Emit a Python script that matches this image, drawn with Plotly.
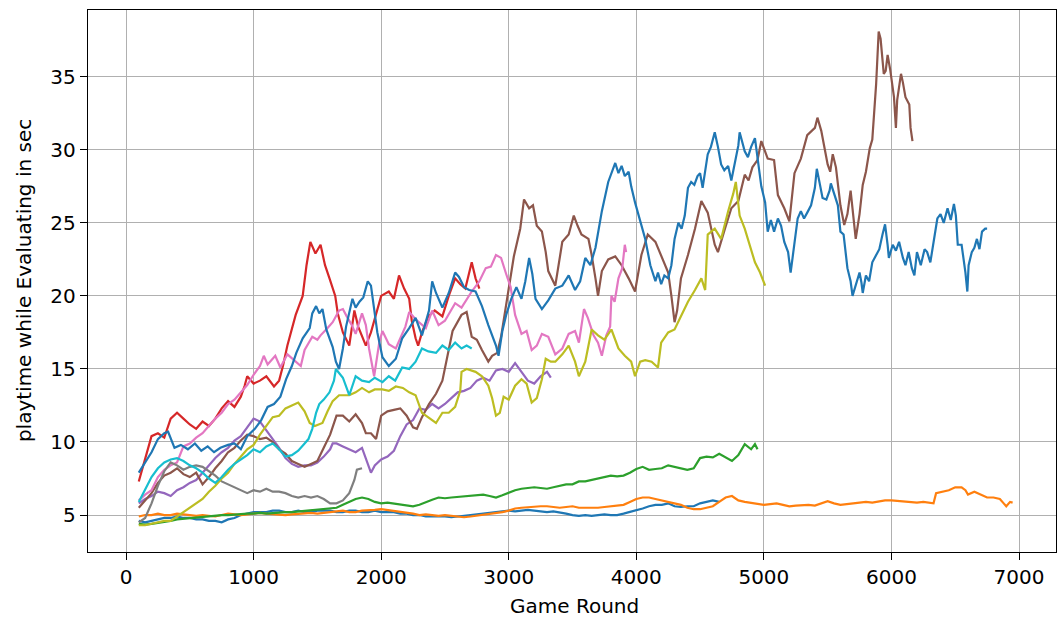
import plotly.graph_objects as go

# ---------------------------------------------------------------
# Evaluation playtime (seconds) per game round for eleven runs
# ---------------------------------------------------------------

# run 1 (blue, fast)
run01_rounds = list(range(100, 4651, 50))
run01_time = [4.6, 4.5, 4.6, 4.7, 4.8, 4.8, 4.9, 4.8, 4.8, 4.7, 4.7, 4.6, 4.6, 4.5, 4.7, 4.8, 5.0, 5.1,
              5.2, 5.2, 5.2, 5.3, 5.3, 5.2, 5.2, 5.3, 5.2, 5.2, 5.3, 5.3, 5.3, 5.2, 5.2, 5.3, 5.3, 5.2,
              5.2, 5.3, 5.2, 5.2, 5.2, 5.1, 5.1, 5.0, 5.0, 4.9, 4.9, 4.95, 4.9, 4.85, 4.9, 4.95, 5.0,
              5.05, 5.1, 5.2, 5.2, 5.3, 5.3, 5.25, 5.3, 5.35, 5.3, 5.25, 5.2, 5.25, 5.2, 5.1, 5.0, 4.95,
              5.0, 4.95, 5.0, 5.05, 5.0, 5.0, 5.1, 5.2, 5.3, 5.45, 5.6, 5.7, 5.7, 5.8, 5.6, 5.55, 5.6,
              5.6, 5.8, 5.9, 6.0, 5.9]

# run 2 (orange)
run02_rounds = list(range(100, 6301, 50)) + [6330, 6350, 6400, 6450, 6500, 6550, 6580, 6600, 6650,
                                              6700, 6750, 6800, 6850, 6880, 6900, 6930, 6950]
run02_time = [4.9, 5.0, 5.0, 5.1, 5.0, 5.0, 5.1, 5.05, 5.0, 4.95, 5.0, 4.95, 4.9, 5.0, 5.1, 5.05, 5.0,
              5.05, 5.1, 5.15, 5.1, 5.05, 5.0, 5.0, 5.05, 5.1, 5.1, 5.15, 5.1, 5.15, 5.2, 5.25, 5.3, 5.2,
              5.2, 5.3, 5.3, 5.35, 5.4, 5.35, 5.3, 5.25, 5.2, 5.1, 5.0, 5.05, 5.0, 4.95, 5.0, 4.95, 4.9,
              4.85, 4.9, 4.95, 5.0, 5.05, 5.1, 5.2, 5.3, 5.45, 5.5, 5.55, 5.6, 5.6, 5.6, 5.55, 5.5,
              5.55, 5.6, 5.5, 5.5, 5.45, 5.5, 5.55, 5.6, 5.6, 5.7, 5.9, 6.1, 6.2, 6.2, 6.1, 6.0, 5.9,
              5.8, 5.7, 5.5, 5.4, 5.4, 5.5, 5.6, 5.9, 6.2, 6.3, 6.0, 5.9, 5.85, 5.75, 5.7, 5.75, 5.8,
              5.7, 5.6, 5.65, 5.7, 5.7, 5.65, 5.8, 5.95, 5.8, 5.7, 5.75, 5.8, 5.8, 5.9, 5.85, 5.95,
              6.0, 6.0, 5.95, 5.9, 5.9, 5.85, 5.9, 5.85,
              5.8, 6.5, 6.6, 6.7, 6.9, 6.9, 6.7, 6.4, 6.6, 6.4, 6.2, 6.2, 6.1, 5.8, 5.6, 5.9, 5.85]

# run 3 (green)
run03_rounds = list(range(100, 4901, 50)) + [4930, 4950]
run03_time = [4.4, 4.35, 4.4, 4.45, 4.5, 4.6, 4.7, 4.75, 4.8, 4.85, 4.9, 4.95, 5.0, 5.0, 5.0, 5.05,
              5.1, 5.1, 5.1, 5.15, 5.1, 5.15, 5.2, 5.2, 5.2, 5.25, 5.3, 5.3, 5.4, 5.4, 5.45, 5.5, 5.7,
              5.9, 6.1, 6.2, 6.1, 5.9, 5.8, 5.85, 5.8, 5.75, 5.7, 5.6, 5.7, 5.9, 6.05, 6.2, 6.15, 6.2,
              6.25, 6.3, 6.3, 6.4, 6.4, 6.3, 6.2, 6.35, 6.55, 6.7, 6.8, 6.85, 6.9, 6.85, 6.8, 6.9, 7.0,
              7.1, 7.1, 7.3, 7.3, 7.4, 7.55, 7.65, 7.7, 7.65, 7.7, 7.9, 8.15, 8.3, 8.1, 8.15, 8.2, 8.4,
              8.3, 8.15, 8.1, 8.2, 8.9, 9.0, 8.95, 9.2, 8.95, 8.7, 9.1, 9.85, 9.5, 9.85, 9.5]

# run 4 (red)
run04_rounds = [100, 150, 200, 250, 300, 350, 400, 450, 500, 550, 600, 650, 700, 750, 800, 850, 900,
                930, 950, 1000, 1050, 1100, 1160, 1200, 1230, 1265, 1300, 1330, 1385, 1415, 1445,
                1485, 1525, 1560, 1595, 1640, 1660, 1700, 1750, 1770, 1790, 1820, 1880, 1920, 1950,
                2000, 2060, 2100, 2140, 2180, 2220, 2240, 2270, 2290, 2320, 2370, 2420, 2480, 2530,
                2580, 2620, 2660, 2710, 2740, 2770]
run04_time = [7.3, 8.8, 10.4, 10.6, 10.3, 11.6, 12.0, 11.6, 11.2, 10.9, 11.4, 11.1, 11.6, 12.3, 12.8,
              12.4, 13.1, 13.85, 14.5, 14.0, 14.2, 14.5, 13.8, 14.2, 15.2, 16.6, 17.8, 18.7, 20.0,
              22.1, 23.7, 22.9, 23.5, 22.1, 21.2, 20.0, 18.8, 17.5, 16.6, 17.8, 19.0, 17.9, 16.6,
              17.5, 18.5, 20.0, 20.3, 19.8, 21.4, 20.5, 19.8, 18.3, 17.1, 16.6, 17.5, 18.6, 19.0,
              18.6, 20.0, 21.2, 20.8, 20.5, 22.3, 21.2, 20.5]

# run 5 (purple)
run05_rounds = list(range(100, 1601, 50)) + [1620, 1650, 1700, 1750, 1800, 1850, 1900, 1920, 1950] \
    + list(range(2000, 3301, 50)) + [3330]
run05_time = [5.8, 6.1, 6.3, 6.6, 6.5, 6.3, 6.7, 6.9, 7.2, 7.4, 7.9, 8.4, 8.9, 9.3, 9.6, 10.1, 10.4,
              11.0, 11.6, 11.4, 10.8, 10.2, 9.6, 8.9, 8.5, 8.3, 8.4, 8.4, 8.6, 9.0, 9.5,
              9.9, 9.9, 9.7, 9.5, 9.3, 9.6, 8.3, 7.9, 8.4,
              8.8, 9.0, 9.4, 10.4, 11.2, 11.5, 12.3, 12.2, 12.6, 12.3, 12.6, 13.0, 13.4, 13.5, 13.7,
              14.2, 14.4, 14.2, 14.9, 15.0, 14.8, 15.4, 14.8, 14.2, 14.0, 14.5, 14.8, 14.4]

# run 6 (brown)
run06_rounds = list(range(100, 1851, 50)) + [
    1880, 1920, 1960, 2000, 2050, 2100, 2150, 2200, 2250, 2280, 2320, 2375, 2430, 2480, 2530, 2560,
    2630, 2670, 2710, 2750, 2790, 2840, 2870, 2910, 2940, 2975, 3015, 3040, 3090, 3120, 3160, 3190,
    3220, 3260, 3290, 3310, 3365, 3390, 3420, 3470, 3510, 3540, 3570, 3625, 3650, 3680, 3700, 3730,
    3780, 3835, 3885, 3940, 3990, 4040, 4090, 4150, 4195, 4250, 4275, 4300, 4320, 4350, 4405, 4460,
    4510, 4560, 4615, 4640, 4695, 4745, 4800, 4820, 4850, 4880, 4910, 4950, 4980, 5030, 5080, 5110,
    5160, 5200, 5240, 5290, 5340, 5400, 5420, 5450, 5470, 5500, 5520, 5540, 5565, 5600, 5630, 5655,
    5680, 5700, 5720, 5750, 5775, 5800, 5830, 5850, 5880, 5900, 5915, 5940, 5955, 5970, 5990, 6020,
    6035, 6045, 6075, 6090, 6110, 6140, 6150, 6165]
run06_time = [5.5, 6.0, 6.5, 7.2, 7.7, 7.9, 8.2, 7.8, 7.6, 7.9, 7.1, 7.6, 8.2, 8.7, 9.3, 9.6, 10.1,
              10.5, 10.4, 10.2, 10.3, 10.0, 9.5, 9.2, 8.7, 8.5, 8.3, 8.5, 8.7, 9.6, 10.5, 11.8, 11.8,
              11.4, 11.9, 11.3,
              10.6, 10.6, 10.2, 11.8, 12.1, 12.2, 12.3, 11.8, 11.0, 10.9, 11.7, 12.6, 13.3, 14.2, 16.4,
              17.6, 18.7, 18.9, 17.2, 17.0, 16.3, 15.5, 15.9, 16.1, 17.2, 19.2, 21.4, 22.7, 24.6, 26.6,
              26.0, 26.2, 24.8, 24.4, 23.0, 21.7, 20.7, 22.1, 23.7, 24.2, 25.5, 24.8, 24.2, 23.9, 22.8,
              21.2, 20.0, 21.7, 22.5, 22.7, 22.1, 21.2, 20.3, 22.8, 24.2, 23.7, 22.8, 21.6, 20.0, 18.2,
              19.0, 21.2, 22.8, 24.6, 26.5, 25.7, 23.5, 23.0, 24.6, 26.0, 26.5, 27.3, 28.3, 27.9, 28.8,
              29.3, 30.6, 29.4, 29.3, 26.9, 26.0, 25.1, 28.4, 29.4, 31.0, 31.5, 32.2, 31.3, 30.3, 29.0,
              28.5, 29.7, 28.8, 26.2, 24.85, 25.6, 27.2, 25.4, 23.9, 25.6, 27.6, 28.5, 30.1, 30.7,
              34.5, 38.1, 37.6, 35.2, 35.4, 36.5, 35.5, 33.6, 31.5, 33.4, 35.2, 34.6, 33.6, 33.1, 31.5,
              30.6]

# run 7 (pink)
run07_rounds = list(range(100, 1051, 50)) + [
    1080, 1110, 1170, 1210, 1265, 1320, 1370, 1400, 1460, 1500, 1525, 1580, 1620, 1670, 1700, 1730,
    1770, 1800, 1850, 1880, 1905, 1945, 1960, 1985, 2010, 2060, 2115, 2190, 2220, 2270, 2350, 2400,
    2450, 2500, 2580, 2630, 2710, 2770, 2820, 2860, 2900, 2940, 2980, 3015, 3050, 3100, 3140, 3180,
    3220, 3260, 3310, 3365, 3420, 3470, 3520, 3550, 3590, 3620, 3665, 3700, 3730, 3765, 3795, 3805,
    3830, 3860, 3890, 3910, 3920]
run07_time = [6.0, 6.4, 6.7, 7.6, 8.1, 8.4, 8.6, 9.7, 9.9, 10.3, 10.6, 11.1, 11.6, 12.0, 12.6, 12.9,
              13.4, 13.9, 14.6, 15.2,
              15.9, 15.3, 15.9, 15.1, 16.0, 15.6, 15.2, 16.3, 17.2, 17.0, 17.3, 17.8, 18.2, 19.0,
              19.1, 18.6, 18.0, 17.4, 18.8, 18.0, 16.4, 14.5, 15.5, 16.8, 17.6, 16.7, 16.4, 17.9,
              18.9, 18.4, 17.8, 19.0, 18.0, 18.3, 19.5, 19.2, 20.3, 21.0, 21.9, 22.0, 22.8, 22.6,
              21.5, 20.6, 18.7, 17.4, 17.6, 16.3, 16.6, 17.4, 17.2, 16.0, 16.4, 17.4, 17.6, 16.8,
              19.1, 18.5, 17.3, 16.8, 15.9, 17.3, 17.9, 20.0, 19.6, 21.2, 21.9, 23.5, 23.0]

# run 8 (gray)
run08_rounds = list(range(100, 1751, 50)) + [1790, 1810, 1850]
run08_time = [4.5, 4.8, 5.8, 7.0, 8.0, 8.6, 8.4, 8.1, 8.3, 8.4, 8.3, 8.0, 7.7, 7.3, 7.1, 6.9, 6.7,
              6.5, 6.7, 6.6, 6.8, 6.6, 6.6, 6.5, 6.3, 6.2, 6.3, 6.2, 6.3, 6.1, 5.8, 5.8, 6.0, 6.5,
              7.4, 8.1, 8.2]

# run 9 (olive)
run09_rounds = list(range(100, 1401, 50)) + [
    1440, 1480, 1540, 1580, 1620, 1670, 1750, 1800, 1850, 1905, 1950, 2010, 2060, 2115, 2170, 2220,
    2270, 2320, 2380, 2430, 2480, 2530, 2580, 2620, 2630, 2670, 2740, 2790, 2840, 2870, 2900, 2930,
    2960, 3000, 3050, 3100, 3140, 3180, 3220, 3260, 3290, 3330, 3365, 3420, 3470, 3500, 3520, 3550,
    3600, 3650, 3700, 3750, 3805, 3860, 3910, 3960, 3990, 4030, 4070, 4120, 4170, 4195, 4250, 4300,
    4350, 4405, 4460, 4510, 4540, 4560, 4615, 4665, 4720, 4760, 4780, 4810, 4850, 4890, 4930, 4970,
    5010]
run09_time = [4.3, 4.3, 4.4, 4.5, 4.6, 4.6, 4.9, 5.2, 5.5, 5.8, 6.1, 6.6, 7.0, 7.5, 7.9, 8.5, 9.0,
              9.5, 9.8, 10.5, 11.1, 11.7, 11.8, 12.3, 12.5, 12.7, 12.1,
              11.3, 11.1, 11.3, 12.1, 12.8, 13.2, 13.2, 13.4, 13.7, 13.4, 13.6, 13.6, 13.5, 13.8,
              13.7, 13.4, 13.2, 12.0, 11.6, 11.3, 12.0, 12.0, 12.4, 13.5, 14.8, 15.0, 14.8, 14.5,
              13.85, 13.0, 11.8, 12.0, 13.1, 12.9, 13.85, 14.3, 14.0, 12.7, 13.0, 14.3, 15.7, 15.5,
              15.5, 16.0, 16.6, 16.0, 15.5, 14.5, 15.5, 17.7, 17.3, 17.0, 17.7, 16.4, 15.9, 15.5,
              14.5, 15.5, 15.6, 15.5, 15.1, 16.8, 17.5, 17.7, 18.6, 19.6, 20.4, 21.2, 20.4, 24.2,
              24.6, 23.9, 25.8, 27.0, 27.8, 25.5, 24.6, 23.5, 22.3, 21.6, 20.7]

# run 10 (cyan)
run10_rounds = list(range(100, 1401, 50)) + [
    1430, 1460, 1490, 1515, 1550, 1595, 1630, 1645, 1700, 1750, 1800, 1850, 1905, 1950, 2010, 2060,
    2110, 2165, 2220, 2270, 2320, 2370, 2430, 2480, 2530, 2580, 2630, 2670, 2710]
run10_time = [5.9, 6.8, 7.6, 8.2, 8.6, 8.8, 8.9, 8.7, 8.4, 8.2, 7.9, 7.5, 7.2, 7.6, 8.1, 8.5, 8.8,
              9.1, 9.5, 9.3, 9.7, 9.9, 9.5, 9.0, 9.1, 9.4, 9.9,
              10.2, 10.9, 12.0, 12.6, 12.9, 13.4, 14.2, 15.0, 14.4, 13.2, 14.5, 14.2, 14.1, 14.4,
              14.1, 14.5, 14.2, 15.1, 15.0, 15.5, 16.4, 16.2, 16.1, 16.6, 16.3, 16.8, 16.4, 16.6,
              16.4]

# run 11 (blue, long)
run11_rounds = [
    100, 150, 200, 250, 300, 330, 380, 430, 485, 540, 590, 640, 690, 740, 800, 850, 900, 950, 1010,
    1060, 1110, 1160, 1210, 1255, 1300, 1335, 1385, 1440, 1460, 1490, 1515, 1540, 1570, 1620, 1645,
    1670, 1700, 1725, 1750, 1775, 1800, 1830, 1860, 1895, 1920, 1945, 1970, 2010, 2060, 2115, 2165,
    2220, 2270, 2320, 2375, 2400, 2430, 2480, 2530, 2580, 2610, 2650, 2690, 2740, 2790, 2840, 2900,
    2920, 2950, 2980, 3020, 3060, 3100, 3130, 3160, 3185, 3210, 3260, 3310, 3365, 3420, 3470, 3520,
    3560, 3600, 3640, 3680, 3730, 3780, 3835, 3860, 3885, 3910, 3940, 3960, 3990, 4020, 4040, 4070,
    4110, 4150, 4170, 4195, 4220, 4250, 4275, 4300, 4330, 4355, 4380, 4405, 4430, 4455, 4480, 4500,
    4520, 4560, 4585, 4615, 4640, 4665, 4690, 4720, 4745, 4770, 4800, 4810, 4830, 4850, 4875, 4900,
    4930, 4950, 4980, 5010, 5020, 5030, 5055, 5080, 5110, 5135, 5160, 5190, 5210, 5240, 5265, 5290,
    5315, 5340, 5370, 5400, 5415, 5440, 5460, 5490, 5515, 5525, 5550, 5580, 5600, 5625, 5655, 5680,
    5695, 5720, 5750, 5765, 5775, 5800, 5825, 5850, 5880, 5905, 5930, 5950, 5970, 5980, 6010, 6035,
    6060, 6090, 6110, 6135, 6160, 6180, 6200, 6230, 6260, 6280, 6305, 6340, 6360, 6385, 6410, 6440,
    6465, 6490, 6505, 6520, 6550, 6580, 6595, 6605, 6630, 6650, 6670, 6690, 6710, 6735, 6750]
run11_time = [
    7.9, 8.6, 9.3, 10.2, 10.6, 10.7, 9.6, 9.8, 9.5, 9.9, 9.4, 9.7, 9.3, 9.6, 9.8, 9.9, 9.5, 10.4,
    10.9, 11.5, 12.4, 12.6, 13.1, 14.3, 15.2, 16.1, 17.1, 17.8, 18.8, 19.3, 18.8, 19.1, 17.7, 16.5,
    15.5, 15.0, 16.4, 17.9, 18.9, 19.8, 19.2, 19.6, 19.9, 21.0, 20.7, 19.1, 17.5, 15.8, 15.2, 15.7,
    17.1, 17.8, 18.5, 17.3, 19.0, 21.0, 20.2, 19.2, 20.2, 21.6, 21.3, 20.6, 20.4, 20.3, 19.3, 18.0,
    16.6, 15.9, 17.6, 18.7, 19.8, 20.6, 19.8, 21.0, 22.6, 21.5, 19.8, 19.1, 19.7, 20.5, 20.7, 21.4,
    20.4, 21.0, 22.6, 22.1, 23.3, 25.8, 27.8, 29.1, 28.4, 28.9, 28.2, 28.5, 27.5, 26.4, 25.5, 24.9,
    23.9, 22.1, 21.0, 21.6, 20.8, 21.4, 21.2, 22.1, 23.9, 25.0, 24.6, 25.5, 27.4, 27.8, 27.6, 28.2,
    28.4, 27.4, 29.7, 30.2, 31.2, 30.2, 29.0, 28.6, 28.9, 27.9, 29.0, 30.3, 31.2, 30.6, 29.9, 29.5,
    30.2, 30.8, 29.4, 27.5, 26.4, 25.0, 24.4, 25.2, 24.4, 25.3, 24.8, 23.7, 23.0, 21.6, 23.5, 25.3,
    25.8, 25.3, 25.7, 26.2, 27.4, 28.7, 27.6, 26.7, 26.6, 27.2, 27.7, 27.0, 26.2, 24.4, 24.2, 21.9,
    21.0, 20.0, 20.7, 21.6, 20.9, 20.2, 21.4, 21.0, 22.3, 22.8, 23.2, 24.2, 24.9, 23.5, 22.6, 23.5,
    23.1, 23.7, 22.6, 22.1, 23.0, 21.9, 21.4, 23.0, 22.1, 23.2, 23.0, 22.3, 24.4, 25.3, 25.6, 25.0,
    26.0, 25.2, 26.3, 25.5, 23.5, 23.5, 21.6, 20.3, 22.1, 23.0, 23.3, 23.9, 23.2, 24.4, 24.6, 24.6]

x_ticks = [0, 1000, 2000, 3000, 4000, 5000, 6000, 7000]
y_ticks = [5, 10, 15, 20, 25, 30, 35]

runs = [
    (run01_rounds, run01_time, "#1f77b4"),
    (run02_rounds, run02_time, "#ff7f0e"),
    (run03_rounds, run03_time, "#2ca02c"),
    (run04_rounds, run04_time, "#d62728"),
    (run05_rounds, run05_time, "#9467bd"),
    (run06_rounds, run06_time, "#8c564b"),
    (run07_rounds, run07_time, "#e377c2"),
    (run08_rounds, run08_time, "#7f7f7f"),
    (run09_rounds, run09_time, "#bcbd22"),
    (run10_rounds, run10_time, "#17becf"),
    (run11_rounds, run11_time, "#1f77b4"),
]

fig = go.Figure()
for i, (xs, ys, color) in enumerate(runs):
    assert len(xs) == len(ys), (i + 1, len(xs), len(ys))
    fig.add_trace(go.Scatter(x=xs, y=ys, mode="lines",
                             line=dict(color=color, width=2.2),
                             showlegend=False, hoverinfo="x+y"))

axis_style = dict(
    showgrid=True, gridcolor="#b0b0b0", gridwidth=1.4,
    showline=True, linecolor="black", linewidth=1.4, mirror=True,
    ticks="outside", ticklen=7, tickwidth=1.4, tickcolor="black",
    zeroline=False,
    tickfont=dict(family="DejaVu Sans", size=20, color="black"),
)

fig.update_xaxes(range=[-298, 7290], tickvals=x_ticks, **axis_style)
fig.update_yaxes(range=[2.47, 39.57], tickvals=y_ticks, **axis_style)

fig.update_layout(
    width=1058, height=620,
    margin=dict(l=88, r=2, t=10, b=68),
    plot_bgcolor="white", paper_bgcolor="white",
    font=dict(family="DejaVu Sans", size=20, color="black"),
    annotations=[
        dict(text="Game Round", xref="paper", yref="paper", x=0.5026, y=-0.0996,
             xanchor="center", yanchor="middle", showarrow=False,
             font=dict(family="DejaVu Sans", size=20, color="black")),
        dict(text="playtime while Evaluating in sec", xref="paper", yref="paper",
             x=-0.066, y=0.5, textangle=-90, xanchor="center", yanchor="middle",
             showarrow=False, font=dict(family="DejaVu Sans", size=20, color="black")),
    ],
)

fig.write_html("out.html")
